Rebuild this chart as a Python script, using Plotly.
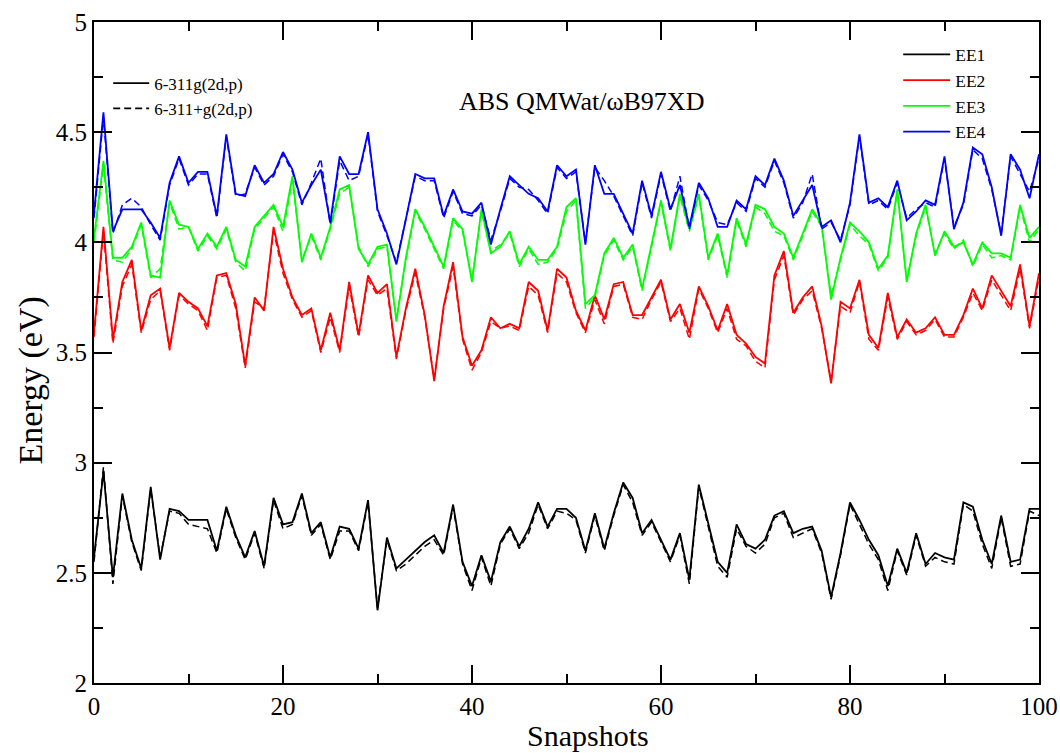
import plotly.graph_objects as go

snapshots = list(range(101))

ee1_a = [2.57, 2.96, 2.48, 2.86, 2.65, 2.52, 2.89, 2.56, 2.79, 2.78, 2.74, 2.74, 2.74, 2.60, 2.80, 2.67, 2.57, 2.69, 2.53, 2.84,
         2.72, 2.73, 2.86, 2.68, 2.73, 2.57, 2.71, 2.70, 2.61, 2.83, 2.33, 2.66, 2.52, 2.56, 2.60, 2.64, 2.67, 2.59, 2.81, 2.55,
         2.44, 2.58, 2.46, 2.64, 2.71, 2.62, 2.70, 2.82, 2.71, 2.79, 2.79, 2.75, 2.60, 2.77, 2.61, 2.77, 2.91, 2.84, 2.68, 2.74,
         2.65, 2.56, 2.68, 2.47, 2.90, 2.73, 2.55, 2.50, 2.72, 2.63, 2.61, 2.65, 2.76, 2.78, 2.68, 2.70, 2.71, 2.60, 2.39, 2.59,
         2.82, 2.74, 2.65, 2.58, 2.44, 2.61, 2.50, 2.68, 2.54, 2.59, 2.57, 2.56, 2.82, 2.80, 2.65, 2.54, 2.76, 2.55, 2.56, 2.79, 2.79]
ee1_b = [2.55, 2.98, 2.45, 2.85, 2.64, 2.51, 2.88, 2.57, 2.78, 2.77, 2.72, 2.71, 2.70, 2.59, 2.79, 2.66, 2.56, 2.68, 2.52, 2.83,
         2.70, 2.72, 2.85, 2.67, 2.72, 2.56, 2.69, 2.69, 2.60, 2.82, 2.34, 2.65, 2.51, 2.54, 2.58, 2.62, 2.65, 2.58, 2.80, 2.54,
         2.42, 2.57, 2.44, 2.63, 2.70, 2.61, 2.68, 2.81, 2.70, 2.78, 2.77, 2.74, 2.59, 2.76, 2.60, 2.76, 2.90, 2.82, 2.67, 2.73,
         2.64, 2.55, 2.67, 2.45, 2.89, 2.71, 2.53, 2.48, 2.70, 2.62, 2.59, 2.63, 2.75, 2.77, 2.66, 2.68, 2.70, 2.59, 2.38, 2.58,
         2.81, 2.72, 2.63, 2.56, 2.42, 2.60, 2.49, 2.67, 2.53, 2.57, 2.55, 2.54, 2.81, 2.78, 2.63, 2.52, 2.75, 2.53, 2.54, 2.78, 2.76]

ee2_a = [3.59, 4.07, 3.56, 3.82, 3.92, 3.60, 3.76, 3.79, 3.52, 3.77, 3.73, 3.70, 3.62, 3.85, 3.86, 3.72, 3.44, 3.75, 3.69, 4.07,
         3.88, 3.75, 3.67, 3.70, 3.51, 3.68, 3.51, 3.82, 3.58, 3.85, 3.77, 3.81, 3.48, 3.70, 3.88, 3.67, 3.37, 3.71, 3.91, 3.57,
         3.44, 3.51, 3.66, 3.61, 3.63, 3.61, 3.82, 3.78, 3.60, 3.88, 3.84, 3.69, 3.60, 3.76, 3.65, 3.81, 3.82, 3.67, 3.67, 3.75,
         3.83, 3.65, 3.72, 3.59, 3.80, 3.71, 3.60, 3.72, 3.58, 3.54, 3.48, 3.45, 3.85, 3.96, 3.68, 3.75, 3.80, 3.62, 3.36, 3.73,
         3.70, 3.83, 3.58, 3.52, 3.77, 3.57, 3.65, 3.59, 3.61, 3.66, 3.58, 3.58, 3.67, 3.79, 3.70, 3.85, 3.78, 3.71, 3.90, 3.62, 3.86]
ee2_b = [3.57, 4.05, 3.54, 3.80, 3.90, 3.59, 3.74, 3.78, 3.51, 3.76, 3.72, 3.69, 3.60, 3.84, 3.85, 3.70, 3.43, 3.73, 3.70, 4.05,
         3.86, 3.74, 3.66, 3.69, 3.50, 3.66, 3.50, 3.80, 3.57, 3.83, 3.76, 3.79, 3.47, 3.69, 3.86, 3.66, 3.38, 3.70, 3.89, 3.56,
         3.42, 3.50, 3.64, 3.61, 3.62, 3.60, 3.80, 3.76, 3.59, 3.86, 3.82, 3.68, 3.59, 3.74, 3.63, 3.80, 3.81, 3.66, 3.65, 3.74,
         3.82, 3.64, 3.70, 3.56, 3.79, 3.70, 3.59, 3.70, 3.56, 3.53, 3.46, 3.43, 3.83, 3.94, 3.67, 3.74, 3.78, 3.61, 3.37, 3.71,
         3.68, 3.82, 3.56, 3.51, 3.75, 3.56, 3.64, 3.58, 3.60, 3.65, 3.57, 3.57, 3.66, 3.77, 3.69, 3.83, 3.76, 3.69, 3.88, 3.61, 3.84]

ee3_a = [4.02, 4.37, 3.93, 3.93, 3.98, 4.09, 3.85, 3.84, 4.19, 4.08, 4.07, 3.97, 4.04, 3.98, 4.07, 3.92, 3.89, 4.07, 4.12, 4.17,
         4.07, 4.30, 3.91, 4.04, 3.93, 4.07, 4.24, 4.26, 3.97, 3.90, 3.98, 3.99, 3.64, 3.93, 4.15, 4.07, 3.98, 3.89, 4.11, 4.06,
         3.82, 4.15, 3.95, 3.98, 4.05, 3.90, 3.98, 3.92, 3.92, 3.98, 4.16, 4.20, 3.72, 3.76, 3.95, 4.02, 3.93, 3.99, 3.79, 3.99,
         4.19, 3.97, 4.22, 4.06, 4.22, 3.93, 4.04, 3.85, 4.11, 3.99, 4.17, 4.15, 4.07, 4.04, 3.93, 4.04, 4.15, 4.08, 3.74, 3.93,
         4.09, 4.05, 4.00, 3.88, 3.94, 4.24, 3.82, 4.04, 4.17, 3.94, 4.05, 3.98, 4.00, 3.90, 4.00, 3.95, 3.95, 3.93, 4.17, 4.02, 4.07]
ee3_b = [4.00, 4.35, 3.92, 3.91, 3.97, 4.08, 3.84, 3.88, 4.18, 4.06, 4.07, 3.96, 4.03, 3.97, 4.06, 3.91, 3.87, 4.06, 4.11, 4.16,
         4.05, 4.28, 3.92, 4.03, 3.92, 4.06, 4.22, 4.25, 3.98, 3.89, 3.97, 3.98, 3.65, 3.92, 4.14, 4.06, 3.97, 3.88, 4.10, 4.05,
         3.83, 4.14, 3.96, 3.99, 4.04, 3.89, 3.97, 3.90, 3.91, 3.97, 4.14, 4.19, 3.70, 3.75, 3.94, 4.01, 3.92, 3.98, 3.78, 3.98,
         4.18, 3.96, 4.21, 4.05, 4.21, 3.92, 4.03, 3.84, 4.10, 3.98, 4.16, 4.13, 4.05, 4.03, 3.92, 4.03, 4.14, 4.07, 3.76, 3.92,
         4.08, 4.03, 3.99, 3.87, 3.93, 4.23, 3.83, 4.03, 4.16, 3.95, 4.04, 3.97, 4.01, 3.89, 3.99, 3.93, 3.94, 3.92, 4.16, 4.00, 4.06]

ee4_a = [4.13, 4.59, 4.05, 4.15, 4.15, 4.15, 4.09, 4.02, 4.27, 4.39, 4.27, 4.32, 4.32, 4.12, 4.49, 4.22, 4.21, 4.35, 4.27, 4.31,
         4.41, 4.33, 4.18, 4.26, 4.33, 4.09, 4.39, 4.31, 4.31, 4.50, 4.15, 4.04, 3.90, 4.11, 4.31, 4.29, 4.29, 4.12, 4.24, 4.14,
         4.13, 4.18, 3.99, 4.15, 4.30, 4.26, 4.22, 4.20, 4.14, 4.35, 4.30, 4.33, 3.99, 4.35, 4.22, 4.22, 4.13, 4.04, 4.28, 4.12,
         4.32, 4.15, 4.26, 4.07, 4.27, 4.20, 4.07, 4.07, 4.19, 4.15, 4.30, 4.26, 4.38, 4.28, 4.12, 4.19, 4.26, 4.07, 4.10, 4.00,
         4.18, 4.49, 4.18, 4.20, 4.16, 4.28, 4.10, 4.14, 4.19, 4.17, 4.39, 4.06, 4.18, 4.43, 4.40, 4.25, 4.03, 4.40, 4.33, 4.20, 4.40]
ee4_b = [4.11, 4.57, 4.04, 4.17, 4.20, 4.16, 4.08, 4.01, 4.26, 4.38, 4.26, 4.31, 4.31, 4.11, 4.48, 4.21, 4.22, 4.34, 4.26, 4.30,
         4.40, 4.32, 4.17, 4.27, 4.38, 4.08, 4.37, 4.28, 4.30, 4.49, 4.14, 4.03, 3.91, 4.10, 4.30, 4.28, 4.28, 4.11, 4.23, 4.13,
         4.12, 4.17, 4.01, 4.14, 4.29, 4.25, 4.24, 4.19, 4.13, 4.34, 4.29, 4.32, 4.00, 4.34, 4.28, 4.21, 4.12, 4.03, 4.27, 4.11,
         4.31, 4.14, 4.30, 4.06, 4.26, 4.19, 4.09, 4.08, 4.18, 4.14, 4.29, 4.25, 4.37, 4.27, 4.11, 4.18, 4.31, 4.06, 4.09, 4.01,
         4.17, 4.48, 4.17, 4.19, 4.15, 4.27, 4.11, 4.15, 4.18, 4.16, 4.38, 4.07, 4.17, 4.42, 4.38, 4.24, 4.04, 4.39, 4.31, 4.23, 4.38]

names = ["EE1", "EE2", "EE3", "EE4"]
colors = ["#000000", "#ff0000", "#00ff00", "#0000ff"]
solid = [ee1_a, ee2_a, ee3_a, ee4_a]
dashed = [ee1_b, ee2_b, ee3_b, ee4_b]
basis = ["6-311g(2d,p)", "6-311+g(2d,p)"]

FONT = "Liberation Serif, Times New Roman, serif"
fig = go.Figure()
for n, c, ya, yb in zip(names, colors, solid, dashed):
    fig.add_trace(go.Scatter(x=snapshots, y=yb, mode="lines", name=n, showlegend=False,
                             line=dict(color=c, width=1.5, dash="7px,4px")))
    fig.add_trace(go.Scatter(x=snapshots, y=ya, mode="lines", name=n, legend="legend",
                             line=dict(color=c, width=1.8)))

fig.add_trace(go.Scatter(x=[None], y=[None], mode="lines", name=basis[0], legend="legend2",
                         line=dict(color="black", width=1.8)))
fig.add_trace(go.Scatter(x=[None], y=[None], mode="lines", name=basis[1], legend="legend2",
                         line=dict(color="black", width=1.8, dash="7px,4px")))

axis_common = dict(showline=True, linecolor="black", linewidth=2, mirror="allticks",
                   ticks="inside", ticklen=18, tickwidth=2, tickcolor="black",
                   showgrid=False, zeroline=False, automargin=False,
                   tickfont=dict(family=FONT, size=25, color="black"))
fig.update_xaxes(range=[0, 100], dtick=20, tick0=0,
                 minor=dict(ticks="inside", ticklen=9, tickwidth=2, tickcolor="black", dtick=10, showgrid=False),
                 **axis_common)
fig.update_yaxes(range=[2, 5], dtick=0.5, tick0=2,
                 minor=dict(ticks="inside", ticklen=9, tickwidth=2, tickcolor="black", dtick=0.25, showgrid=False),
                 **axis_common)

# axis titles (placed as in the original, slightly off-centre)
fig.add_annotation(x=0.523, y=-0.0795, xref="paper", yref="paper", showarrow=False,
                   xanchor="center", yanchor="middle", borderpad=0,
                   text="Snapshots", font=dict(family=FONT, size=30, color="black"))
fig.add_annotation(x=-0.067, y=0.457, xref="paper", yref="paper", showarrow=False,
                   xanchor="center", yanchor="middle", textangle=-90,
                   text="Energy (eV)", font=dict(family=FONT, size=34, color="black"))

fig.add_annotation(x=0.516, y=0.905, xref="paper", yref="paper", showarrow=False,
                   text="ABS QMWat/ωB97XD", font=dict(family=FONT, size=26, color="black"))

fig.update_layout(
    width=1060, height=753,
    margin=dict(l=94, r=21, t=22, b=70),
    paper_bgcolor="white", plot_bgcolor="white",
    font=dict(family=FONT, color="black"),
    legend=dict(x=0.851, y=0.978, xanchor="left", yanchor="top", bgcolor="rgba(0,0,0,0)",
                font=dict(family=FONT, size=17.5, color="black"), tracegroupgap=0, itemwidth=47),
    legend2=dict(x=0.015, y=0.934, xanchor="left", yanchor="top", bgcolor="rgba(0,0,0,0)",
                 font=dict(family=FONT, size=17, color="black"), tracegroupgap=0, itemwidth=36),
)

fig.write_html("out.html")
